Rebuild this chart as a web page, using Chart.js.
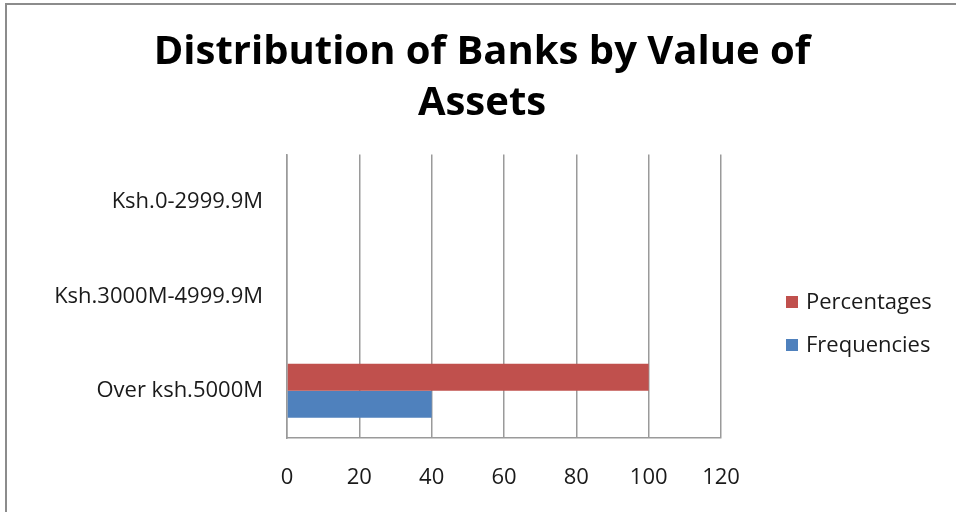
<!DOCTYPE html>
<html>
<head>
<meta charset="utf-8">
<script src="https://cdn.jsdelivr.net/npm/chart.js@4/dist/chart.umd.min.js"></script>
<style>
  html, body { margin: 0; padding: 0; background: #fff; overflow: hidden; }
  #wrap { position: relative; width: 956px; height: 512px; overflow: hidden; }
  #frame { position: absolute; left: 5px; top: 3px; width: 1200px; height: 800px;
           border-left: 2px solid #8c8c8c; border-top: 2px solid #8c8c8c; }
  #chart { position: absolute; left: 0; top: 0; }
  #legend { position: absolute; left: 786px; top: 286px; font-family: "Open Sans", sans-serif;
            font-size: 22px; color: #1a1a1a; }
  #legend div { height: 43px; line-height: 28px; white-space: nowrap; }
  #legend span { display: inline-block; width: 12px; height: 12px; margin-right: 8px; vertical-align: 1px; }
</style>
</head>
<body>
<div id="wrap">
  <div id="frame"></div>
  <canvas id="chart" width="956" height="512"></canvas>
  <div id="legend"></div>
</div>
<script>
const categories = ['Ksh.0-2999.9M', 'Ksh.3000M-4999.9M', 'Over ksh.5000M'];
const percentages = [0, 0, 100];
const frequencies = [0, 0, 40];
const xTicks = [0, 20, 40, 60, 80, 100, 120];

const seriesNames = ['Percentages', 'Frequencies'];
const seriesColors = ['#C0504D', '#4F81BD'];

const tickFont = { family: '"Open Sans", sans-serif', size: 22 };

const chart = new Chart(document.getElementById('chart'), {
  type: 'bar',
  data: {
    labels: categories,
    datasets: [
      { label: seriesNames[0], data: percentages, backgroundColor: seriesColors[0] },
      { label: seriesNames[1], data: frequencies, backgroundColor: seriesColors[1] }
    ]
  },
  options: {
    indexAxis: 'y',
    responsive: false,
    animation: false,
    categoryPercentage: 0.573,
    barPercentage: 1,
    layout: { padding: { left: 8, right: 0, top: 0, bottom: 0 } },
    plugins: {
      legend: { display: false },
      tooltip: { enabled: false },
      title: {
        display: true,
        text: ['Distribution of Banks by Value of', 'Assets'],
        color: '#000',
        font: { family: '"Open Sans", sans-serif', size: 40, weight: 'bold', lineHeight: 1.27 },
        padding: { top: 27, bottom: 26 }
      }
    },
    scales: {
      x: {
        min: xTicks[0],
        max: xTicks[xTicks.length - 1],
        afterBuildTicks: s => { s.ticks = xTicks.map(v => ({ value: v })); },
        afterFit: s => { s.height = 74; },
        grid: { color: '#9a9a9a', lineWidth: 1.5, drawTicks: false },
        border: { color: '#9a9a9a', width: 1.5 },
        ticks: { color: '#1a1a1a', font: tickFont, padding: 27, maxRotation: 0 }
      },
      y: {
        afterFit: s => { s.width = 279; },
        grid: { display: false, drawTicks: false },
        border: { color: '#9a9a9a', width: 1.5 },
        ticks: { color: '#1a1a1a', font: tickFont, padding: 24 }
      },
      // empty right-hand axis that keeps room for the legend
      yRight: {
        type: 'category',
        position: 'right',
        afterFit: s => { s.width = 235; },
        grid: { display: false },
        border: { display: false },
        ticks: { display: false }
      }
    }
  }
});

// legend, built from the dataset labels and colours
const legend = document.getElementById('legend');
chart.data.datasets.forEach(ds => {
  const row = document.createElement('div');
  const box = document.createElement('span');
  box.style.background = ds.backgroundColor;
  row.appendChild(box);
  row.appendChild(document.createTextNode(ds.label));
  legend.appendChild(row);
});
</script>
</body>
</html>
